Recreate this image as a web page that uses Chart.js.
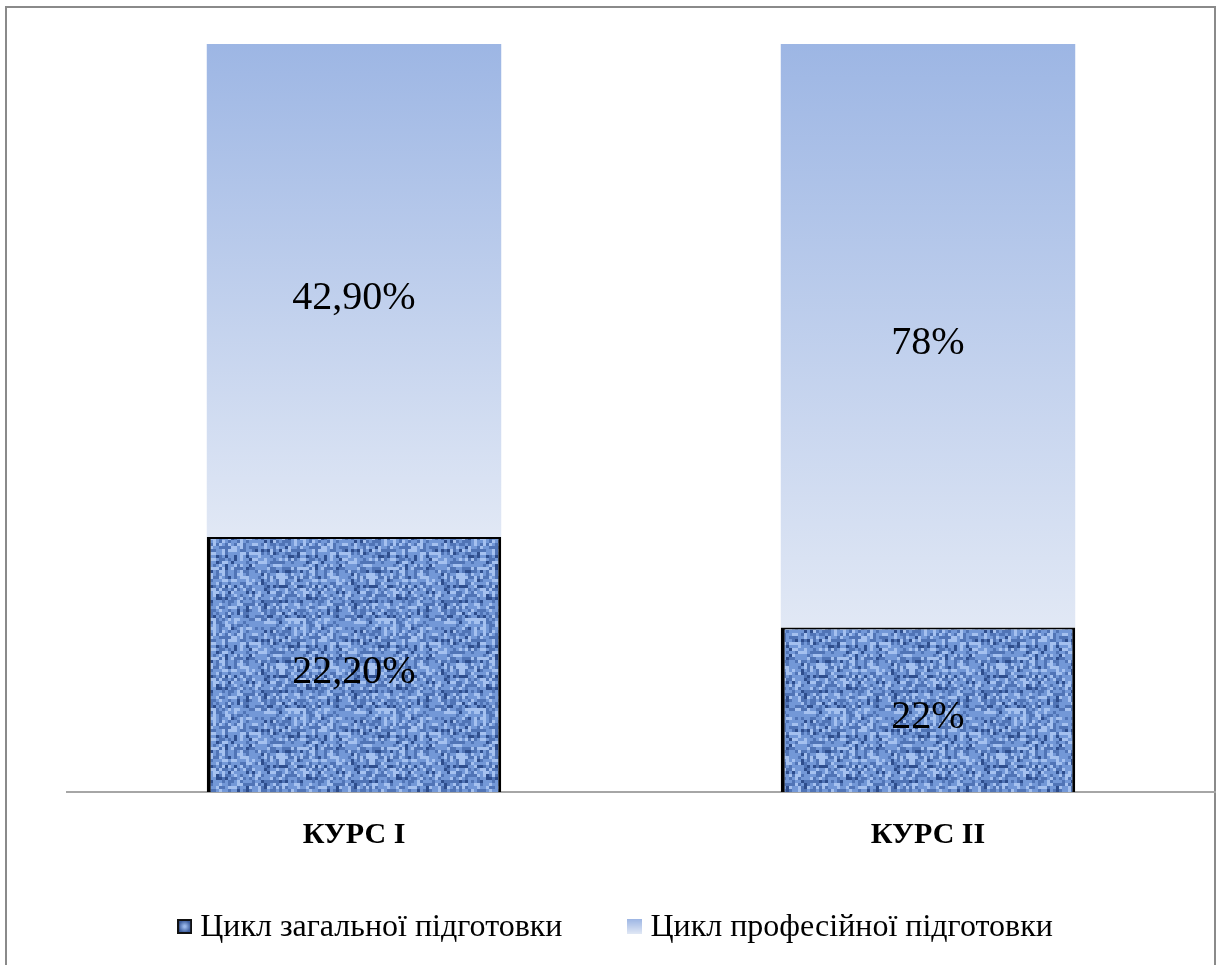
<!DOCTYPE html>
<html>
<head>
<meta charset="utf-8">
<script src="https://cdn.jsdelivr.net/npm/chart.js@4.4.1/dist/chart.umd.min.js"></script>
<style>
  html, body { margin: 0; padding: 0; background: #fff; }
  #wrap { width: 1223px; height: 965px; position: relative; }
</style>
</head>
<body>
<div id="wrap"><canvas id="chart" width="1223" height="965"></canvas></div>
<script>
// data
const courses = ["КУРС I", "КУРС II"];
const generalCycle = [22.2, 22];
const professionalCycle = [42.9, 78];
const generalText = ["22,20%", "22%"];
const professionalText = ["42,90%", "78%"];
const seriesNames = ["Цикл загальної підготовки", "Цикл професійної підготовки"];

// 100% stacked: share of each part in the course total
const totals = generalCycle.map((v, i) => v + professionalCycle[i]);
const generalShare = generalCycle.map((v, i) => (v / totals[i]) * 100);
const professionalShare = professionalCycle.map((v, i) => (v / totals[i]) * 100);

const serif = "'Liberation Serif', 'Times New Roman', serif";

// woven texture for the dark segment (fixed hash, no random)
function hash(x, y) {
  let h = (x * 374761393 + y * 668265263) | 0;
  h = (h ^ (h >>> 13)) * 1274126177;
  h = h ^ (h >>> 16);
  return ((h >>> 0) % 1000) / 1000;
}
function makeTexture() {
  const c = document.createElement("canvas");
  c.width = 90; c.height = 90;
  const g = c.getContext("2d");
  for (let y = 0; y < 90; y += 3) {
    for (let x = 0; x < 90; x += 3) {
      const cx = x / 3, cy = y / 3;
      let n = hash(cx, cy) * 0.7 + hash(cx + 7, cy >> 1) * 0.3;
      if (cy % 5 === 0) n -= 0.12;
      if (cx % 6 === 2) n += 0.1;
      let col;
      if (n < 0.2) col = "#2e4d8c";
      else if (n < 0.42) col = "#5074b6";
      else if (n < 0.72) col = "#7398d7";
      else col = "#a5c1ef";
      g.fillStyle = col;
      g.fillRect(x, y, 3, 3);
    }
  }
  return c;
}
const ctx = document.getElementById("chart").getContext("2d");
const texture = ctx.createPattern(makeTexture(), "repeat");

function legendBox(kind) {
  const c = document.createElement("canvas");
  c.width = 15; c.height = 15;
  const g = c.getContext("2d");
  if (kind === 0) {
    g.fillStyle = "#111";
    g.fillRect(0, 0, 15, 15);
    const gr = g.createRadialGradient(7.5, 7.5, 1, 7.5, 7.5, 6);
    gr.addColorStop(0, "#9ab8ea");
    gr.addColorStop(1, "#3e5f9f");
    g.fillStyle = gr;
    g.fillRect(2, 2, 11, 11);
  } else {
    const gr = g.createLinearGradient(0, 0, 0, 15);
    gr.addColorStop(0, "#9db6e4");
    gr.addColorStop(1, "#e1e8f5");
    g.fillStyle = gr;
    g.fillRect(0, 0, 15, 15);
  }
  return c;
}
const legendImages = [legendBox(0), legendBox(1)];

function lightGradient(context) {
  const chart = context.chart;
  const y = chart.scales && chart.scales.y;
  if (!y || !chart.chartArea) return "#c0cfec";
  const i = context.dataIndex;
  const top = y.getPixelForValue(100);
  const bottom = y.getPixelForValue(generalShare[i]);
  const gr = chart.ctx.createLinearGradient(0, top, 0, bottom);
  gr.addColorStop(0, "#9db6e4");
  gr.addColorStop(1, "#e1e8f5");
  return gr;
}

const frameLabelsLegend = {
  id: "frameLabelsLegend",
  beforeDraw(chart) {
    const c = chart.ctx;
    c.save();
    c.strokeStyle = "#8a8a8a";
    c.lineWidth = 2;
    c.strokeRect(6, 7, 1209, 975);
    c.restore();
  },
  afterDatasetsDraw(chart) {
    const c = chart.ctx;
    const texts = [generalText, professionalText];
    c.save();
    c.fillStyle = "#000";
    c.font = "40px " + serif;
    c.textAlign = "center";
    c.textBaseline = "middle";
    chart.data.datasets.forEach((ds, d) => {
      chart.getDatasetMeta(d).data.forEach((bar, i) => {
        const p = bar.getProps(["x", "y", "base"], true);
        c.fillText(texts[d][i], p.x, (p.y + p.base) / 2 + 8);
      });
    });
    c.restore();
  },
  afterDraw(chart) {
    // legend row under the axis
    const c = chart.ctx;
    c.save();
    c.font = "32px " + serif;
    c.fillStyle = "#000";
    c.textBaseline = "middle";
    const names = chart.data.datasets.map(ds => ds.label);
    const widths = names.map(n => c.measureText(n).width);
    const box = 15, gap = 8, between = 65;
    const total = widths.reduce((a, w) => a + box + gap + w, 0) + between;
    let x = 615 - total / 2;
    const y = 928;
    names.forEach((n, i) => {
      c.drawImage(legendImages[i], x, y - 9);
      x += box + gap;
      c.fillText(n, x, y);
      x += widths[i] + between;
    });
    c.restore();
  }
};

new Chart(ctx, {
  type: "bar",
  data: {
    labels: courses,
    datasets: [
      {
        label: seriesNames[0],
        data: generalShare,
        backgroundColor: texture,
        borderColor: "#000",
        borderWidth: { left: 4, right: 3, top: 2, bottom: 0 },
        borderSkipped: "bottom",
        categoryPercentage: 1,
        barPercentage: 0.513
      },
      {
        label: seriesNames[1],
        data: professionalShare,
        backgroundColor: lightGradient,
        borderWidth: 0,
        categoryPercentage: 1,
        barPercentage: 0.513
      }
    ]
  },
  options: {
    responsive: false,
    animation: false,
    devicePixelRatio: 1,
    layout: { padding: { left: 67, right: 8, top: 44, bottom: 103 } },
    plugins: {
      tooltip: { enabled: false },
      legend: { display: false }
    },
    scales: {
      x: {
        stacked: true,
        grid: { display: false, drawTicks: false },
        border: { display: true, color: "#a6a6a6", width: 2 },
        ticks: {
          color: "#000",
          padding: 25,
          font: { family: serif, size: 30, weight: "bold" }
        },
        afterFit(scale) { scale.height = 70; }
      },
      y: {
        stacked: true,
        display: false,
        min: 0,
        max: 100
      }
    }
  },
  plugins: [frameLabelsLegend]
});
</script>
</body>
</html>
